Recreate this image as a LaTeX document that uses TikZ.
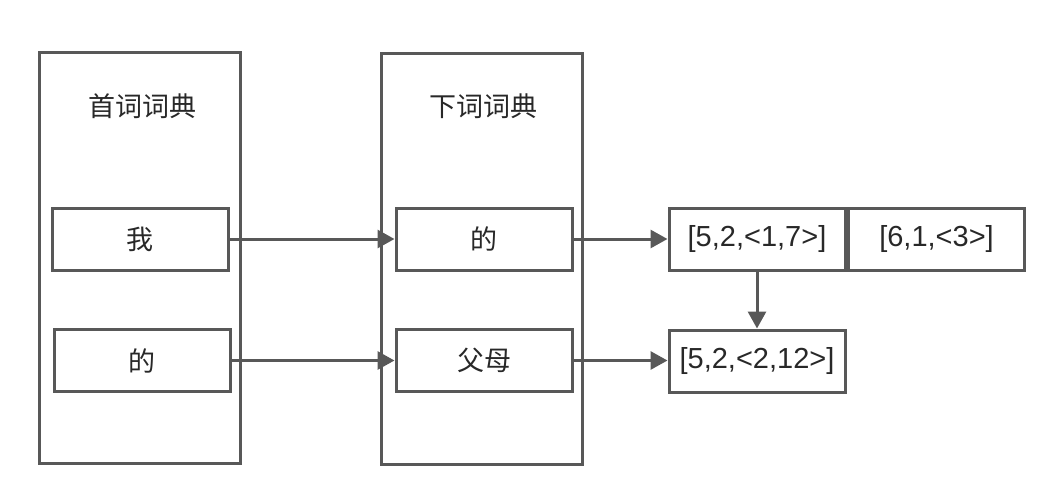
\documentclass[tikz,border=0pt]{standalone}
\usepackage{fontspec}
\setmainfont{Liberation Sans}
\newfontfamily\cjk{Noto Sans CJK SC}
\usetikzlibrary{arrows.meta}
\definecolor{linegray}{RGB}{88,88,88}
\definecolor{textgray}{RGB}{40,40,40}
\begin{document}
\begin{tikzpicture}[x=1pt, y=-1pt]
  % Define box and arrow styles
  \tikzstyle{dictbox} = [draw=linegray, line width=3pt, rectangle,
  minimum width=201pt, minimum height=411pt]
  \tikzstyle{wordbox} = [draw=linegray, line width=3pt, rectangle,
  minimum width=176pt, minimum height=62pt, text=textgray,
  font=\cjk\fontsize{27}{32}\selectfont]
  \tikzstyle{listbox} = [wordbox, font=\fontsize{29}{34}\selectfont]
  \tikzstyle{titletext} = [text=textgray, font=\cjk\fontsize{27}{32}\selectfont]
  \tikzstyle{link} = [draw=linegray, line width=3pt,
  -{Triangle[length=17pt, width=18pt]}]

  \useasboundingbox (0,0) rectangle (1062,500);

  % dictionaries
  \node [dictbox] (first) at (139.5,258) {};
  \node [dictbox] (next) at (482,259) {};
  \node [titletext] (firsttitle) at (142,106) {首词词典};
  \node [titletext] (nexttitle) at (483,106) {下词词典};

  % words
  \node [wordbox] (wo) at (140,239) {我};
  \node [wordbox] (de) at (142,360.5) {的};
  \node [wordbox] (nextde) at (484,239) {的};
  \node [wordbox] (fumu) at (484,360.5) {父母};

  % position lists
  \node [listbox] (posa) at (757,239) {[5,2,<1,7>]};
  \node [listbox] (posb) at (936.5,239) {[6,1,<3>]};
  \node [listbox] (posc) at (757,361) {[5,2,<2,12>]};

  \draw [link] (wo) -- (nextde);
  \draw [link] (de) -- (fumu);
  \draw [link] (nextde) -- (posa);
  \draw [link] (fumu) -- (posc.west |- fumu);
  \draw [link] (posa) -- (posc);
\end{tikzpicture}
\end{document}
